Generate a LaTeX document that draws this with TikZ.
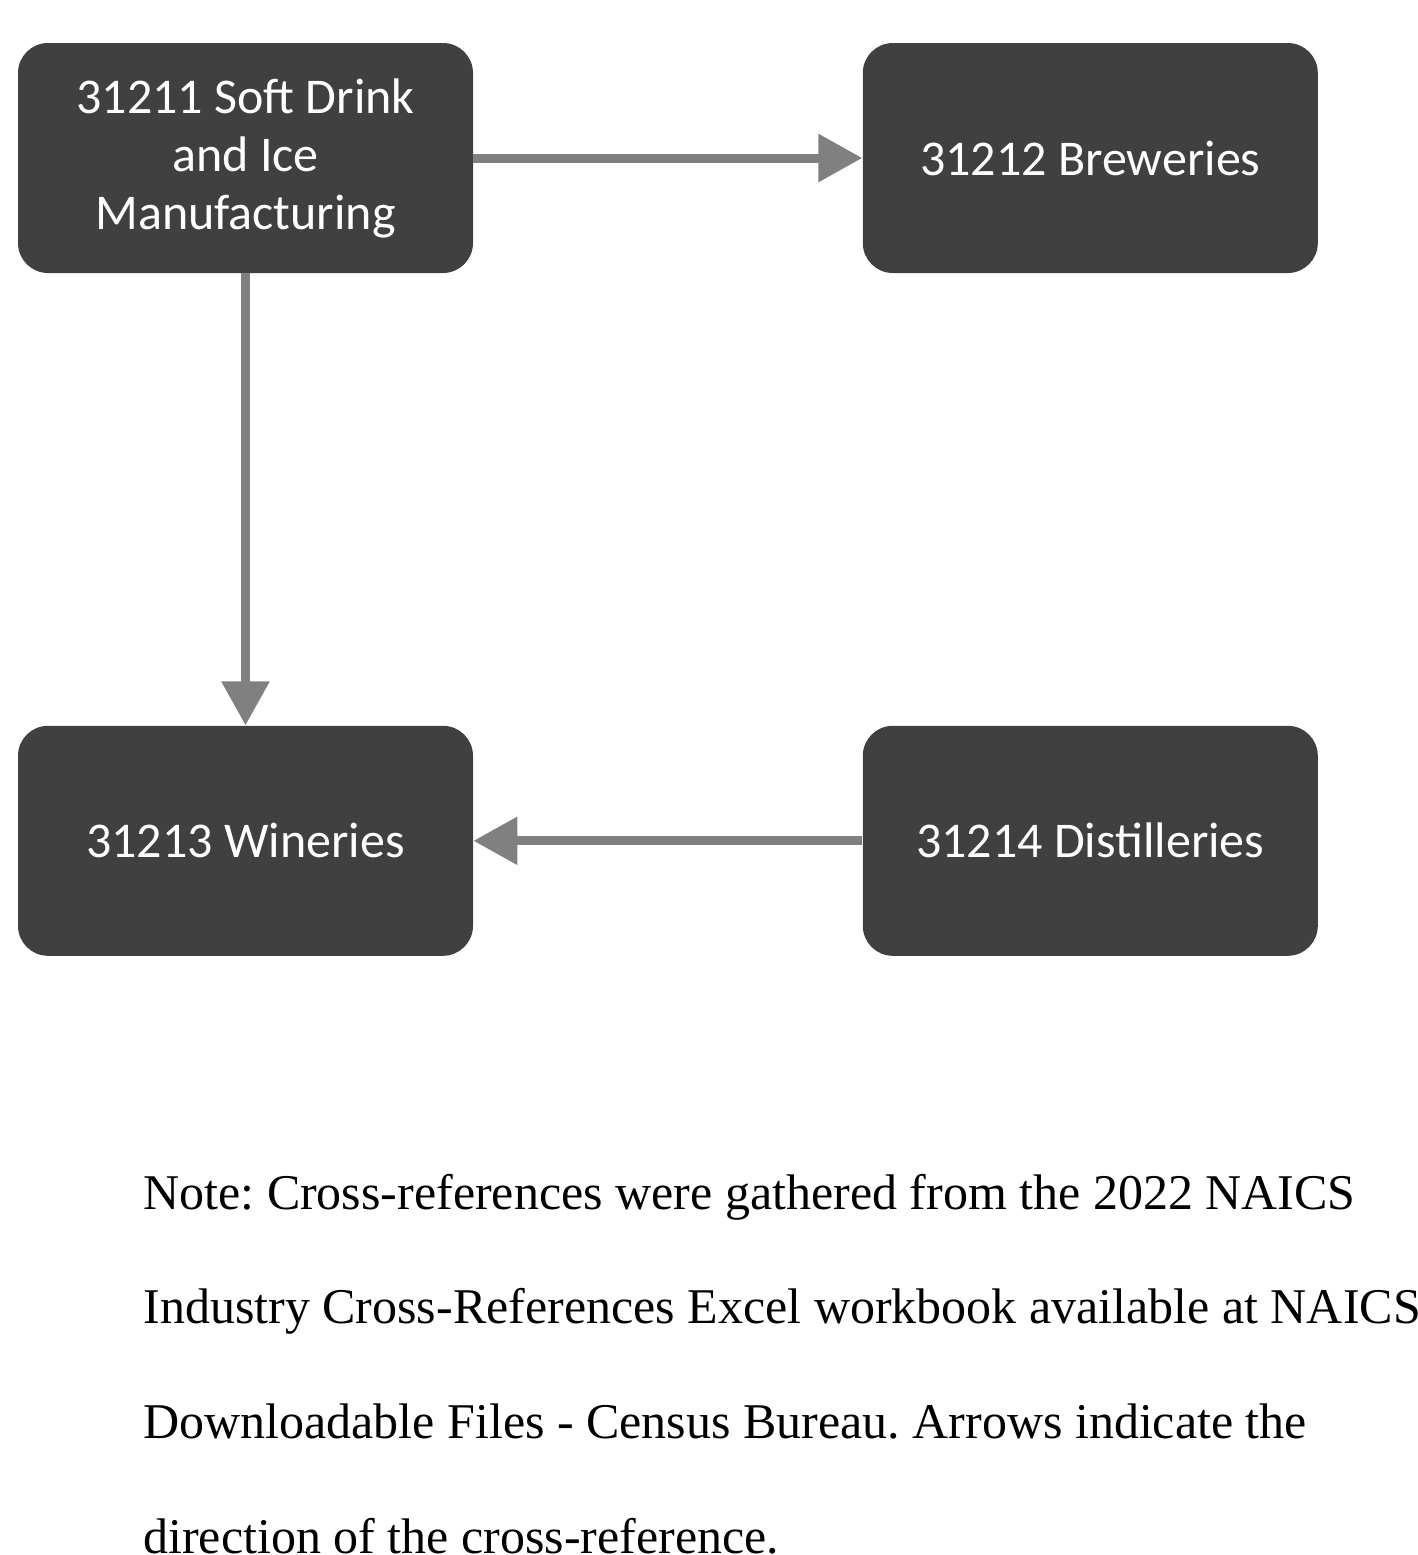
\documentclass[tikz,border=0pt]{standalone}
\usepackage{fontspec}
\setmainfont{Liberation Serif}
\newfontfamily\boxfont{Carlito}
\usetikzlibrary{positioning,arrows.meta}

\definecolor{boxgray}{HTML}{404040}
\definecolor{arrowgray}{HTML}{808080}

\tikzset{
  code/.style={fill=boxgray, rounded corners=15pt, minimum width=227.5pt,
    minimum height=115pt, inner sep=0pt, text=white, align=center,
    font=\boxfont\fontsize{25}{29}\selectfont},
  xref/.style={draw=arrowgray, line width=4.5pt,
    -{Triangle[width=23pt,length=22pt]}}
}

\begin{document}
\frenchspacing
\begin{tikzpicture}
      \useasboundingbox (0,0) rectangle (709pt,-777.5pt);

      \node[code] (1) at (122.75pt,-79pt) {31211 Soft Drink\\and Ice\\Manufacturing};
      \node[code, right=194.5pt of 1] (2) {31212 Breweries};
      \node[code, below=226pt of 1] (3) {31213 Wineries};
      \node[code, right=194.5pt of 3] (4) {31214 Distilleries};

      \draw[xref] (1) -- (2);
      \draw[xref] (1) -- (3);
      \draw[xref] (4) -- (3);

      % note under the diagram (anchored at its last line)
      \node[anchor=base west, inner sep=0pt, align=left,
        font=\fontsize{25}{57.3}\selectfont] (note) at (71.5pt,-776.5pt)
        {Note: Cross-references were gathered from the 2022 NAICS\\
         Industry Cross-References Excel workbook available at NAICS\\
         Downloadable Files - Census Bureau. Arrows indicate the\\
         direction of the cross-reference.};
    \end{tikzpicture}
\end{document}
